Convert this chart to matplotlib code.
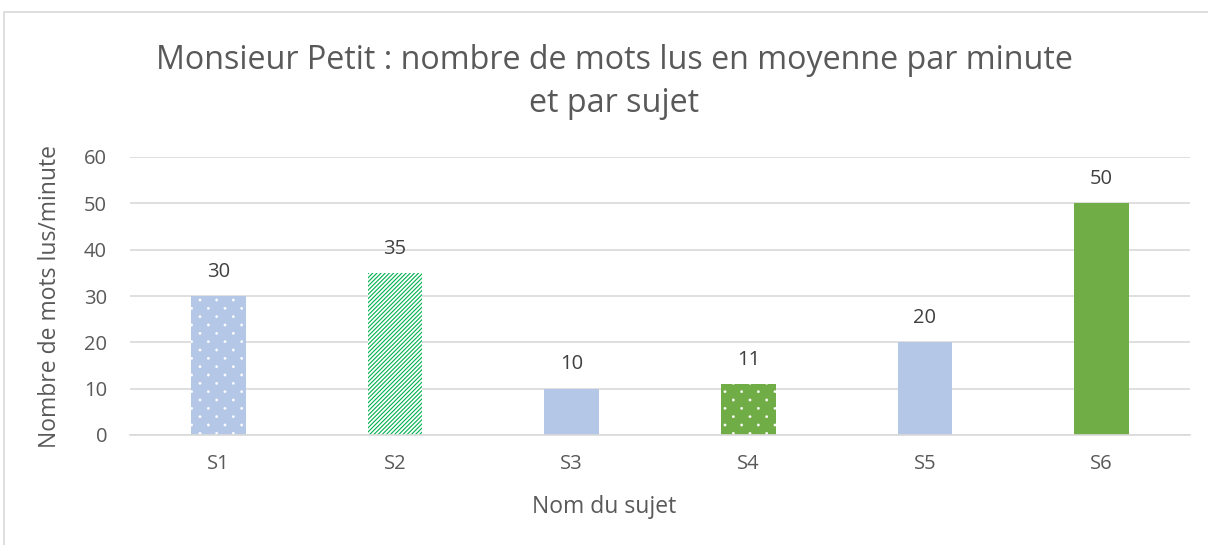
import matplotlib
matplotlib.use("Agg")
import numpy as np
import matplotlib.pyplot as plt
import matplotlib.hatch as mhatch
from matplotlib.path import Path
from matplotlib.patches import Rectangle

categories = ["S1", "S2", "S3", "S4", "S5", "S6"]
values = [30, 35, 10, 11, 20, 50]
title = "Monsieur Petit : nombre de mots lus en moyenne par minute\net par sujet"
ylabel = "Nombre de mots lus/minute"
xlabel = "Nom du sujet"
yticks = [0, 10, 20, 30, 40, 50, 60]

BLUE = "#B4C7E7"
GREEN = "#70AD47"
HGREEN = "#00B050"
styles = [
    dict(facecolor=BLUE, edgecolor="white", hatch=".", hlw=0.2),
    dict(facecolor="white", edgecolor=HGREEN, hatch="////////", hlw=0.8),
    dict(facecolor=BLUE, edgecolor=BLUE, hatch=None, hlw=1.0),
    dict(facecolor=GREEN, edgecolor="white", hatch=".", hlw=0.2),
    dict(facecolor=BLUE, edgecolor=BLUE, hatch=None, hlw=1.0),
    dict(facecolor=GREEN, edgecolor=GREEN, hatch=None, hlw=1.0),
]


class DotLattice(mhatch.HatchPatternBase):
    """Staggered small dots (Office-style dotted fill) for the '.' hatch."""
    radius = 0.012

    def __init__(self, hatch, density):
        n = hatch.count('.') * density
        self.pts = []
        if n == 0:
            self.num_vertices = 0
            return
        circ = Path.unit_circle()
        self.sv, self.sc = circ.vertices, circ.codes
        nrows = 2 * n
        for r in range(nrows + 1):
            yy = r / nrows
            if r % 2 == 0:
                xs = [c / n for c in range(n + 1)]
            else:
                xs = [(c + 0.5) / n for c in range(n)]
            for xx in xs:
                self.pts.append((xx, yy))
        self.num_vertices = len(self.pts) * len(self.sv)

    def set_vertices_and_codes(self, vertices, codes):
        parts = [self.sv * self.radius + np.array(p) for p in self.pts]
        np.concatenate(parts, out=vertices)
        np.concatenate([self.sc] * len(self.pts), out=codes)


mhatch._hatch_types = [DotLattice if t is mhatch.SmallFilledCircles else t
                       for t in mhatch._hatch_types]

plt.rcParams['font.family'] = ['Open Sans', 'DejaVu Sans']

fig = plt.figure(figsize=(12.08, 5.45), dpi=100)
fig.add_artist(Rectangle((4/1208, -0.1), 1.2, (545-12)/545 + 0.1, transform=fig.transFigure,
                         fill=False, edgecolor="#D9D9D9", linewidth=1.2))

ax = fig.add_axes([130/1208, (545-435)/545, (1190-130)/1208, (435-157)/545])
x = list(range(len(categories)))
for i, (v, st) in enumerate(zip(values, styles)):
    st = dict(st)
    hlw = st.pop("hlw")
    with plt.rc_context({'hatch.linewidth': hlw}):
        ax.bar(i, v, width=0.31, linewidth=0, zorder=3, **st)
    ax.annotate(str(v), (i, v), xytext=(0, 17.5), textcoords="offset points",
                ha="center", va="center", fontsize=14.5, color="#404040")

ax.set_xlim(-0.5, len(categories) - 0.5)
ax.set_ylim(0, 60)
ax.set_yticks(yticks)
ax.set_xticks(x)
ax.set_xticklabels(categories)
ax.tick_params(axis="both", length=0, labelsize=14.5, labelcolor="#595959")
ax.tick_params(axis="x", pad=14)
ax.tick_params(axis="y", pad=16.5)
ax.grid(axis="y", color="#D9D9D9", linewidth=1.2, zorder=0)
for s in ["top", "right", "left"]:
    ax.spines[s].set_visible(False)
ax.spines["bottom"].set_color("#D9D9D9")
ax.spines["bottom"].set_linewidth(1.2)
ax.spines["bottom"].set_zorder(4)

ax.set_ylabel(ylabel, fontsize=16.5, color="#595959")
ax.yaxis.set_label_coords(50/1208, 1 - 296/545, transform=fig.transFigure)
ax.set_xlabel(xlabel, fontsize=16.5, color="#595959")
ax.xaxis.set_label_coords(0.5, 1 - 507/545, transform=fig.transFigure)
ax.xaxis.label.set_va("center")
ax.yaxis.label.set_va("center")
fig.text(614/1208, 1 - 82/545, title, ha="center", va="center", fontsize=23.2,
         color="#595959", linespacing=1.38)

fig.savefig("out.png", dpi=100)
